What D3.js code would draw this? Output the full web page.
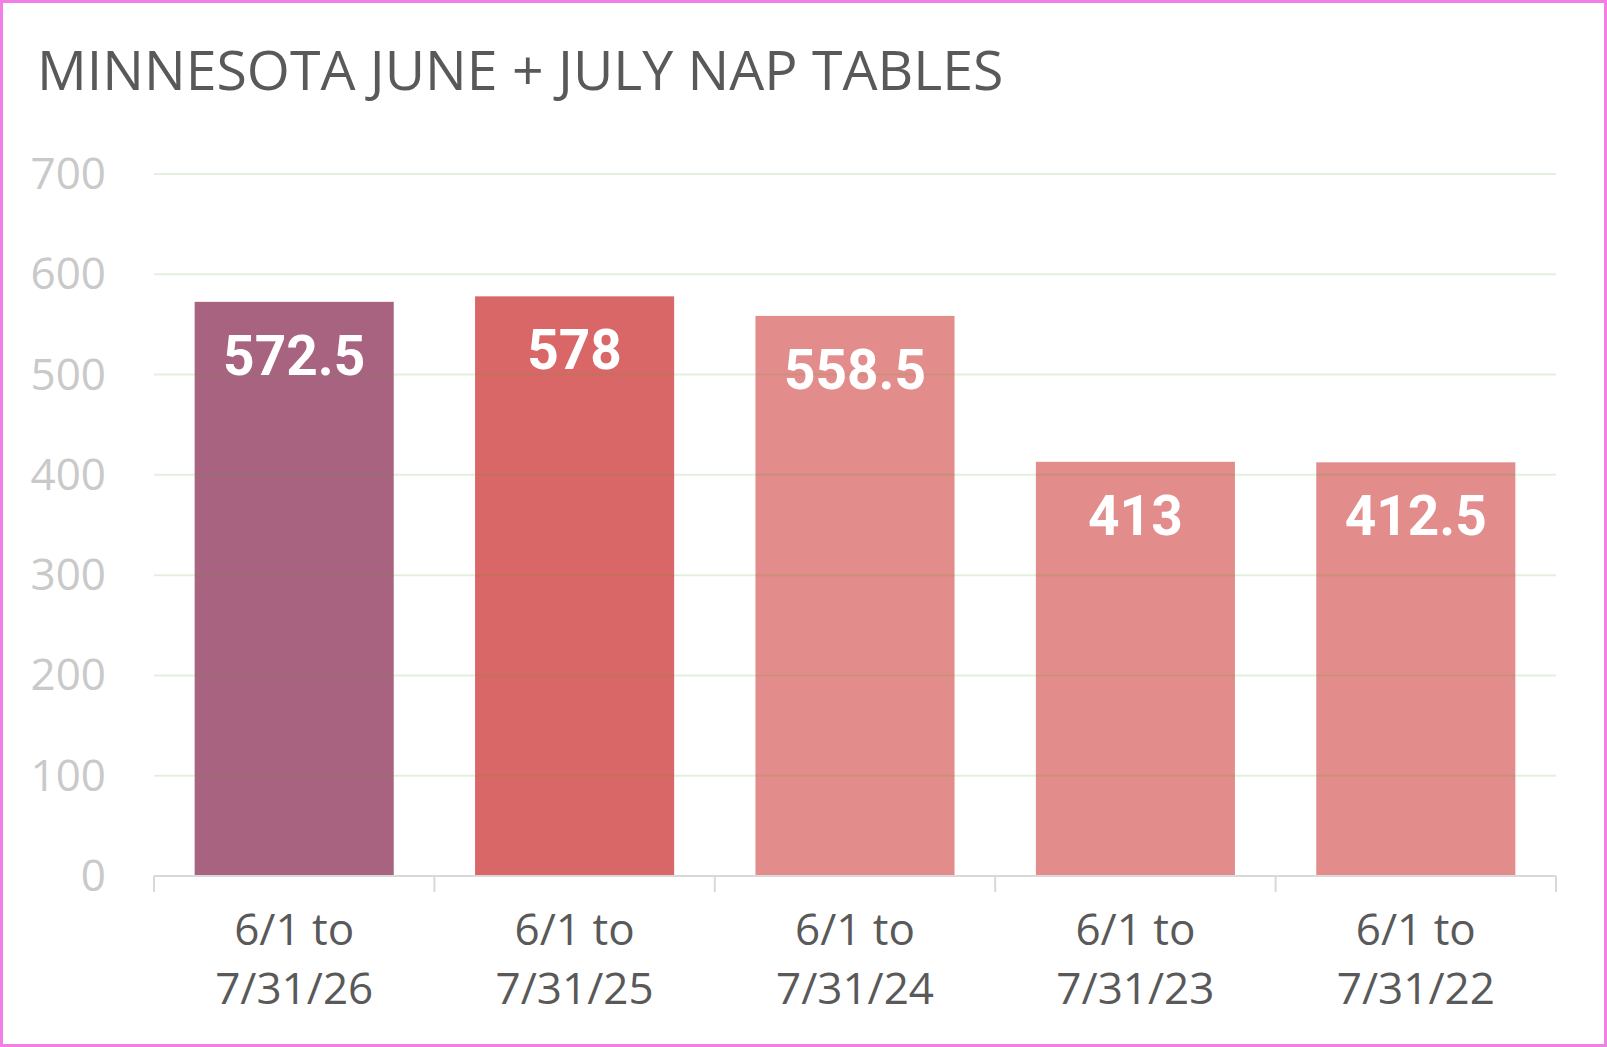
<!DOCTYPE html>
<html>
<head>
<meta charset="utf-8">
<script src="https://cdn.jsdelivr.net/npm/d3@7"></script>
<style>
  body { margin: 0; background: #fff; }
  svg { display: block; }
</style>
</head>
<body>
<svg id="chart_svg" width="1607" height="1047"></svg>
<script>
// data
const periodLines = [
    ['6/1 to', '7/31/26'],
    ['6/1 to', '7/31/25'],
    ['6/1 to', '7/31/24'],
    ['6/1 to', '7/31/23'],
    ['6/1 to', '7/31/22']
];
const periods = ['7/31/26', '7/31/25', '7/31/24', '7/31/23', '7/31/22'];
const tables = [572.5, 578, 558.5, 413, 412.5];
const yTicks = [0, 100, 200, 300, 400, 500, 600, 700];
const barColors = ['#9e5273', '#d65757', '#df7f80', '#df7f80', '#df7f80'];

function createBarChart() {
    const svg = d3.select('#chart_svg');
    const width = +svg.attr('width');
    const height = +svg.attr('height');
    const margin = { top: 174, right: 51, bottom: 171, left: 154 };
    const innerWidth = width - margin.left - margin.right;
    const innerHeight = height - margin.top - margin.bottom;

    svg.append('rect')
        .attr('x', 1.5).attr('y', 1.5)
        .attr('width', width - 3).attr('height', height - 3)
        .attr('fill', '#fff')
        .attr('stroke', '#f07fe6')
        .attr('stroke-width', 3);

    // title
    svg.append('text')
        .attr('x', 37)
        .attr('y', 90)
        .style('font-family', '"Open Sans", sans-serif')
        .style('font-size', '55.4px')
        .style('fill', '#595959')
        .text('MINNESOTA JUNE + JULY NAP TABLES');

    const xScale = d3.scaleBand()
        .domain(periods)
        .range([0, innerWidth])
        .paddingInner(0.29)
        .paddingOuter(0.145);
    const xEdges = d3.scaleBand()
        .domain(periods)
        .range([0, innerWidth]);
    const yScale = d3.scaleLinear()
        .domain([0, 700])
        .range([innerHeight, 0]);

    const g = svg.append('g')
        .attr('transform', `translate(${margin.left},${margin.top})`);

    // bars
    g.selectAll('rect.bar')
        .data(tables)
        .enter()
        .append('rect')
        .attr('class', 'bar')
        .attr('x', (d, i) => xScale(periods[i]))
        .attr('y', d => yScale(d))
        .attr('width', xScale.bandwidth())
        .attr('height', d => innerHeight - yScale(d))
        .style('fill', (d, i) => barColors[i])
        .style('opacity', 0.9);

    // gridlines (drawn over bars, semi transparent)
    g.selectAll('line.grid')
        .data(yTicks.filter(t => t > 0))
        .enter()
        .append('line')
        .attr('class', 'grid')
        .attr('x1', 0)
        .attr('x2', innerWidth)
        .attr('y1', d => yScale(d))
        .attr('y2', d => yScale(d))
        .style('stroke', 'rgba(90,160,40,0.16)')
        .style('stroke-width', 2);

    // y axis labels
    const yAxis = g.append('g')
        .call(d3.axisLeft(yScale).tickValues(yTicks).tickSize(0).tickPadding(48));
    yAxis.select('.domain').remove();
    yAxis.selectAll('text')
        .style('font-family', '"Open Sans", sans-serif')
        .style('font-size', '44px')
        .style('fill', '#c9c9c9')
        .attr('dy', '0.33em');

    // x axis
    const xAxis = g.append('g')
        .attr('transform', `translate(0,${innerHeight})`);
    xAxis.append('line')
        .attr('x1', 0).attr('x2', innerWidth)
        .attr('y1', 0).attr('y2', 0)
        .style('stroke', '#d9d9d9')
        .style('stroke-width', 2);
    const edges = periods.map(p => xEdges(p)).concat([innerWidth]);
    xAxis.selectAll('line.tick')
        .data(edges)
        .enter()
        .append('line')
        .attr('class', 'tick')
        .attr('x1', d => d).attr('x2', d => d)
        .attr('y1', 0).attr('y2', 16)
        .style('stroke', '#d9d9d9')
        .style('stroke-width', 2);

    const xLabels = xAxis.selectAll('text.xlab')
        .data(periodLines)
        .enter()
        .append('text')
        .attr('class', 'xlab')
        .attr('x', (d, i) => xEdges(periods[i]) + xEdges.bandwidth() / 2)
        .attr('y', 69)
        .style('text-anchor', 'middle')
        .style('font-family', '"Open Sans", sans-serif')
        .style('font-size', '44px')
        .style('fill', '#595959');
    xLabels.selectAll('tspan')
        .data(d => d)
        .enter()
        .append('tspan')
        .attr('x', function () { return d3.select(this.parentNode).attr('x'); })
        .attr('dy', (d, i) => i === 0 ? 0 : 59)
        .text(d => d);

    // value labels
    g.selectAll('text.value')
        .data(tables)
        .enter()
        .append('text')
        .attr('class', 'value')
        .attr('x', (d, i) => xScale(periods[i]) + xScale.bandwidth() / 2)
        .attr('y', d => yScale(d) + 73)
        .style('text-anchor', 'middle')
        .style('font-family', 'Roboto, sans-serif')
        .style('font-weight', 700)
        .style('font-size', '55px')
        .style('fill', '#ffffff')
        .text(d => d);
}

createBarChart();
</script>
</body>
</html>
